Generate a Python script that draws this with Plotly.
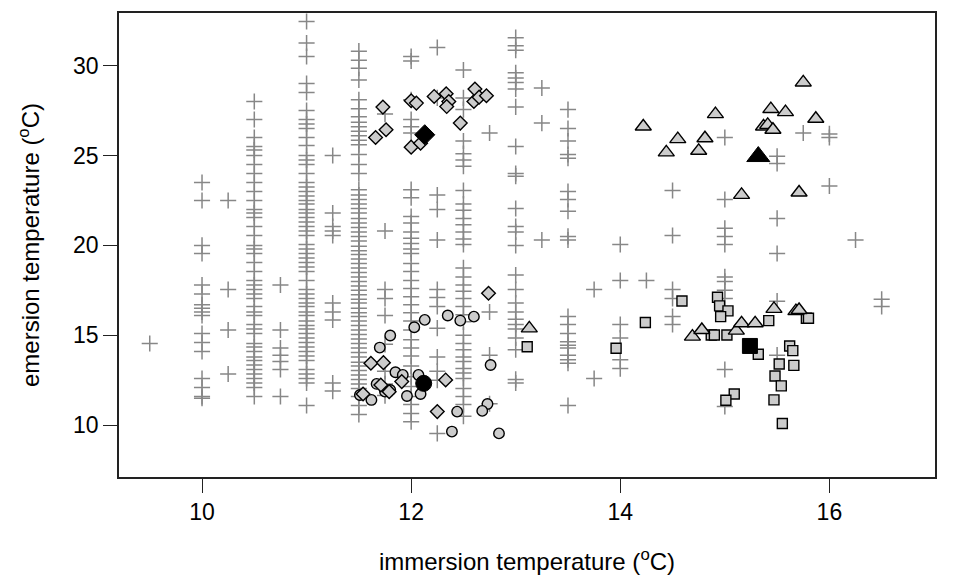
import plotly.graph_objects as go

# ---------------- data: plus markers (all observations), one list per immersion temperature column
plus_y_9_50 = [14.55]
plus_y_10_00 = [23.5, 22.5, 20.0, 19.55, 17.8, 17.3, 16.7, 16.5, 16.3, 16.1, 15.1, 14.6, 14.1, 12.6, 12.1, 11.6, 11.5]
plus_y_10_25 = [22.5, 17.55, 15.3, 12.85]
plus_y_10_50 = [28.0, 27.0, 26.0, 25.5, 25.3, 25.0, 24.5, 24.0, 23.5, 23.0, 22.5, 22.0, 21.8, 21.55, 21.05,
                20.55, 20.0, 19.8, 19.55, 19.05, 18.55, 18.05, 17.8, 17.55, 17.3, 17.05, 16.6, 16.3, 16.1,
                15.6, 15.35, 15.1, 14.55, 14.35, 14.1, 13.8, 13.6, 13.35, 13.1, 12.85, 12.6, 12.35, 12.1, 11.6]
plus_y_10_75 = [17.8, 15.3, 14.3, 13.9, 13.55, 13.1, 11.6]
plus_y_11_00 = [32.45, 31.25, 30.5, 29.0, 28.5, 27.5, 27.0, 26.75, 26.5, 26.0, 25.55, 25.0, 24.75, 24.5, 24.0,
                23.5, 23.25, 23.0, 22.75, 22.5, 22.3, 22.0, 21.8, 21.55, 21.3, 21.05, 20.8, 20.55, 20.05, 19.8,
                19.55, 19.3, 19.05, 18.8, 18.55, 18.05, 17.55, 17.3, 17.05, 16.8, 16.6, 16.3, 16.1, 15.8, 15.55,
                15.35, 15.1, 14.85, 14.6, 14.35, 14.1, 13.85, 13.6, 13.1, 12.85, 12.6, 12.35, 11.1]
plus_y_11_25 = [25.0, 21.8, 21.05, 20.8, 20.55, 16.8, 16.3, 15.85, 12.35, 11.9]
plus_y_11_50 = [30.8, 30.3, 29.85, 29.2, 28.1, 27.6, 27.15, 26.85, 26.6, 26.35, 26.1, 25.85, 25.6, 25.05, 24.5,
                24.0, 23.1, 22.8, 22.55, 22.3, 22.05, 21.8, 21.5, 21.25, 21.0, 20.75, 20.5, 20.25, 19.95, 19.7,
                19.5, 19.25, 19.0, 18.75, 18.5, 18.25, 18.0, 17.75, 17.5, 17.25, 17.0, 16.8, 16.5, 16.25, 16.05,
                15.8, 15.55, 15.3, 15.05, 14.8, 14.55, 14.3, 14.05, 13.8, 13.5, 13.3, 13.05, 12.8, 12.55, 12.3,
                12.05, 11.6, 11.1, 10.6]
plus_y_11_75 = [27.3, 20.8, 17.55, 17.05, 16.1, 14.5, 13.0, 12.3, 11.65]
plus_y_12_00 = [30.5, 30.25, 28.1, 27.0, 26.6, 26.25, 23.1, 22.65, 21.6, 21.25, 20.75, 20.4, 20.1, 19.8, 19.55,
                19.0, 18.55, 18.05, 17.6, 17.15, 16.7, 16.25, 15.8, 15.3, 14.75, 14.3, 13.85, 13.3, 12.7, 12.15,
                11.6, 11.15, 10.65, 10.2]
plus_y_12_25 = [31.0, 28.2, 22.8, 22.0, 20.3, 17.55, 17.1, 16.6, 15.4, 13.8, 13.0, 12.5, 9.55]
plus_y_12_50 = [29.75, 28.2, 27.55, 25.8, 25.1, 24.75, 24.4, 23.05, 22.3, 21.95, 21.5, 21.15, 20.75, 20.35, 20.05,
                18.75, 18.25, 17.8, 17.45, 17.05, 16.6, 16.15, 15.75, 15.0, 14.55, 14.2, 13.8, 13.55, 13.15,
                12.9, 12.6, 12.05, 11.6, 11.15, 10.5]
plus_y_12_75 = [26.25, 16.3, 13.9, 11.2]
plus_y_13_00 = [31.55, 31.1, 30.85, 29.6, 29.3, 29.05, 28.7, 27.7, 25.5, 24.0, 23.85, 22.05, 21.05, 20.75, 20.0,
                18.35, 17.55, 16.8, 16.3, 15.9, 15.6, 15.35, 14.85, 14.2, 12.55, 12.35]
plus_y_13_25 = [28.75, 26.8, 20.3]
plus_y_13_50 = [27.55, 26.5, 25.8, 25.05, 24.85, 23.0, 22.55, 21.9, 20.5, 20.3, 16.05, 15.6, 15.1, 14.65, 14.45,
                14.3, 13.9, 13.65, 13.45, 11.1]
plus_y_13_75 = [17.55, 12.6]
plus_y_14_00 = [20.05, 18.05, 15.6, 14.85, 13.65, 13.15]
plus_y_14_25 = [18.05]
plus_y_14_50 = [23.05, 20.55, 17.55, 17.05, 16.05, 15.6]
plus_y_15_00 = [26.0, 22.55, 20.95, 20.5, 20.05, 18.25, 18.0, 17.5, 17.05, 13.1, 11.05]
plus_y_15_50 = [24.95, 24.55, 21.5, 19.55, 16.9, 13.9]
plus_y_15_75 = [26.25]
plus_y_16_00 = [26.2, 26.0, 23.3]
plus_y_16_25 = [20.3]
plus_y_16_50 = [17.0, 16.6]

plus_columns = [
    (9.5, plus_y_9_50), (10.0, plus_y_10_00), (10.25, plus_y_10_25), (10.5, plus_y_10_50),
    (10.75, plus_y_10_75), (11.0, plus_y_11_00), (11.25, plus_y_11_25), (11.5, plus_y_11_50),
    (11.75, plus_y_11_75), (12.0, plus_y_12_00), (12.25, plus_y_12_25), (12.5, plus_y_12_50),
    (12.75, plus_y_12_75), (13.0, plus_y_13_00), (13.25, plus_y_13_25), (13.5, plus_y_13_50),
    (13.75, plus_y_13_75), (14.0, plus_y_14_00), (14.25, plus_y_14_25), (14.5, plus_y_14_50),
    (15.0, plus_y_15_00), (15.5, plus_y_15_50), (15.75, plus_y_15_75), (16.0, plus_y_16_00),
    (16.25, plus_y_16_25), (16.5, plus_y_16_50),
]

# ---------------- data: grouped points
circle_x = [11.51, 11.62, 11.67, 11.70, 11.75, 11.80, 11.80, 11.85, 11.92, 11.96, 12.03, 12.07, 12.09, 12.13,
            12.35, 12.47, 12.60, 12.76, 12.44, 12.73, 12.68, 12.39, 12.84]
circle_y = [11.68, 11.41, 12.30, 14.32, 11.87, 14.99, 11.96, 12.95, 12.80, 11.63, 15.45, 12.80, 11.74, 15.86,
            16.10, 15.82, 16.04, 13.35, 10.76, 11.18, 10.80, 9.65, 9.55]

diamond_x = [11.73, 11.76, 11.66, 12.00, 12.05, 12.00, 12.09, 12.22, 12.335, 12.36, 12.34, 12.47, 12.61, 12.60,
             12.65, 12.72,
             11.54, 11.615, 11.735, 11.71, 11.79, 11.91, 12.33, 12.25, 12.74]
diamond_y = [27.69, 26.43, 26.00, 28.04, 27.91, 25.46, 25.68, 28.28, 28.43, 28.00, 27.72, 26.80, 28.69, 28.00,
             28.24, 28.32,
             11.74, 13.45, 13.48, 12.24, 11.87, 12.43, 12.52, 10.76, 17.34]

triangle_x = [14.22, 14.44, 14.55, 14.75, 14.81, 14.91, 15.16, 15.37, 15.41, 15.46, 15.44, 15.58, 15.71, 15.75,
              15.87,
              13.13, 14.69, 14.78, 15.11, 15.16, 15.29, 15.47, 15.68, 15.71]
triangle_y = [26.61, 25.17, 25.91, 25.26, 25.96, 27.30, 22.81, 26.61, 26.70, 26.43, 27.58, 27.41, 22.94, 29.06,
              27.04,
              15.39, 14.93, 15.30, 15.26, 15.67, 15.67, 16.47, 16.35, 16.41]

square_x = [13.11, 13.96, 14.24, 14.59, 14.93, 14.95, 15.03, 14.96, 14.87, 14.90, 15.02, 15.42, 15.78, 15.80,
            15.62, 15.65, 15.32, 15.52, 15.66, 15.48, 15.54, 15.47, 15.55, 15.09, 15.01]
square_y = [14.37, 14.28, 15.71, 16.91, 17.12, 16.64, 16.36, 16.04, 15.02, 15.02, 15.02, 15.82, 15.95, 15.95,
            14.41, 14.15, 13.95, 13.41, 13.33, 12.74, 12.19, 11.41, 10.10, 11.74, 11.39]

# group means (large black symbols)
mean_circle = (12.12, 12.33)
mean_diamond = (12.13, 26.15)
mean_triangle = (15.32, 24.94)
mean_square = (15.24, 14.41)

# ---------------- axes
x_ticks = [10, 12, 14, 16]
y_ticks = [10, 15, 20, 25, 30]
x_range = [9.206, 17.01]
y_range = [7.125, 32.92]

FONT = "Liberation Sans, Arial, Helvetica, sans-serif"
GRAY_FILL = "#cccccc"
PLUS_GRAY = "#878787"

plus_x, plus_y = [], []
for cx, ys in plus_columns:
    for yv in ys:
        plus_x.append(cx)
        plus_y.append(yv)

fig = go.Figure()

fig.add_trace(go.Scatter(
    x=plus_x, y=plus_y, mode="markers", name="all",
    marker=dict(symbol="cross-thin", size=11.5, color=PLUS_GRAY,
                line=dict(color=PLUS_GRAY, width=1.5)),
    hoverinfo="x+y"))

def grouped(xs, ys, symbol, size, name):
    return go.Scatter(x=xs, y=ys, mode="markers", name=name,
                      marker=dict(symbol=symbol, size=size, color=GRAY_FILL,
                                  line=dict(color="black", width=1.4)))

fig.add_trace(grouped(square_x, square_y, "square", 10, "squares"))
fig.add_trace(grouped(triangle_x, triangle_y, "triangle-up", 14, "triangles"))
fig.add_trace(grouped(circle_x, circle_y, "circle", 10.5, "circles"))
fig.add_trace(grouped(diamond_x, diamond_y, "diamond", 10.5, "diamonds"))

for (mx, my), sym, sz in [(mean_diamond, "diamond", 15.5), (mean_circle, "circle", 16),
                          (mean_triangle, "triangle-up", 20), (mean_square, "square", 15)]:
    fig.add_trace(go.Scatter(x=[mx], y=[my], mode="markers", name="mean",
                             marker=dict(symbol=sym, size=sz, color="black",
                                         line=dict(color="black", width=1))))

axis_common = dict(
    showgrid=False, zeroline=False, showline=True, linecolor="#222222", linewidth=1.5,
    mirror=True, ticks="outside", ticklen=14, tickwidth=1, tickcolor="#222222",
    tickfont=dict(family=FONT, size=23, color="black"), automargin=False,
)

fig.update_layout(
    width=955, height=575,
    margin=dict(l=119, r=20, t=13, b=98),
    paper_bgcolor="white", plot_bgcolor="white",
    showlegend=False,
    font=dict(family=FONT, size=23, color="black"),
    xaxis=dict(range=x_range, tickvals=x_ticks, ticktext=[str(v) for v in x_ticks],
               title=dict(text="immersion temperature (<sup>o</sup>C)",
                          font=dict(family=FONT, size=24, color="black"), standoff=31),
               **axis_common),
    yaxis=dict(range=y_range, tickvals=y_ticks, ticktext=[str(v) for v in y_ticks],
               title=dict(text="emersion temperature (<sup>o</sup>C)",
                          font=dict(family=FONT, size=24, color="black"), standoff=27),
               **axis_common),
)

# remove the browser's default 8px page margin so the figure sits at the window origin
fig.write_html("out.html", config={"displayModeBar": False},
               post_script="document.body.style.margin='0';")
